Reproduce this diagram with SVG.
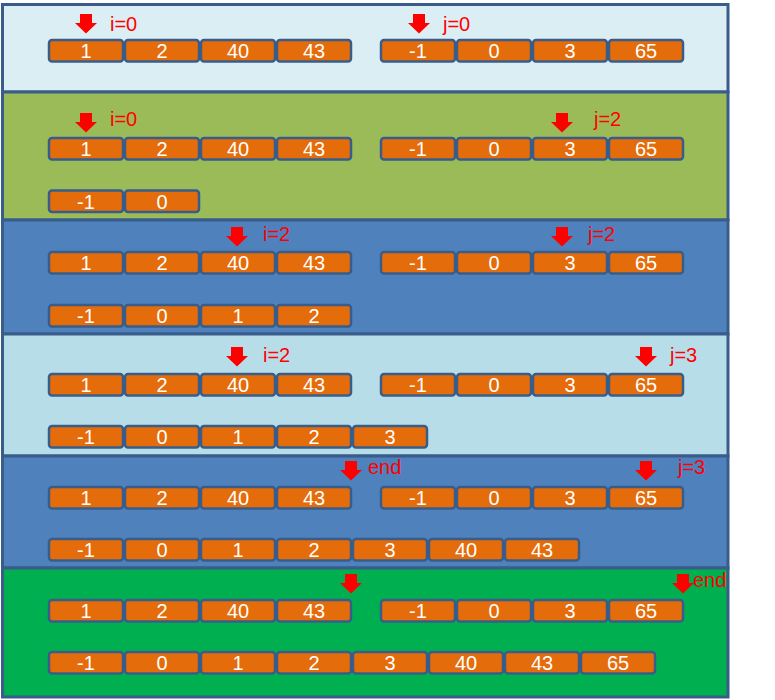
<svg xmlns="http://www.w3.org/2000/svg" xmlns:xlink="http://www.w3.org/1999/xlink" width="775" height="700" viewBox="0 0 775 700">
<style>
.band{stroke:#385D8A;stroke-width:3}
.cell{fill:#E46C0A;stroke:#385D8A;stroke-width:2.5}
.v{fill:#FFFFFF;font-family:"Liberation Sans",Arial,sans-serif;font-size:20px;text-anchor:middle}
.lbl{fill:#FF0000;font-family:"Liberation Sans",Arial,sans-serif;font-size:20px}
.arr{fill:#FF0000}
</style>
<defs>
<path id="dn" class="arr" d="M-6,0 H6 V9 H11 L0,19.5 L-11,9 H-6 Z"/>
</defs>
<rect width="775" height="700" fill="#FFFFFF"/>

<g id="band1">
<rect class="band" x="2.5" y="4.5" width="725.5" height="87.5" fill="#DBEEF4"/>
<g id="b1-left">
<rect class="cell" x="49" y="40" width="74" height="21.5" rx="3"/><text class="v" x="86" y="58">1</text>
<rect class="cell" x="125" y="40" width="74" height="21.5" rx="3"/><text class="v" x="162" y="58">2</text>
<rect class="cell" x="201" y="40" width="74" height="21.5" rx="3"/><text class="v" x="238" y="58">40</text>
<rect class="cell" x="277" y="40" width="74" height="21.5" rx="3"/><text class="v" x="314" y="58">43</text>
</g>
<g id="b1-right">
<rect class="cell" x="381" y="40" width="74" height="21.5" rx="3"/><text class="v" x="418" y="58">-1</text>
<rect class="cell" x="457" y="40" width="74" height="21.5" rx="3"/><text class="v" x="494" y="58">0</text>
<rect class="cell" x="533" y="40" width="74" height="21.5" rx="3"/><text class="v" x="570" y="58">3</text>
<rect class="cell" x="609" y="40" width="74" height="21.5" rx="3"/><text class="v" x="646" y="58">65</text>
</g>
</g>

<g id="band2">
<rect class="band" x="2.5" y="92" width="725.5" height="128" fill="#9BBB59"/>
<g id="b2-left">
<rect class="cell" x="49" y="138" width="74" height="21.5" rx="3"/><text class="v" x="86" y="156">1</text>
<rect class="cell" x="125" y="138" width="74" height="21.5" rx="3"/><text class="v" x="162" y="156">2</text>
<rect class="cell" x="201" y="138" width="74" height="21.5" rx="3"/><text class="v" x="238" y="156">40</text>
<rect class="cell" x="277" y="138" width="74" height="21.5" rx="3"/><text class="v" x="314" y="156">43</text>
</g>
<g id="b2-right">
<rect class="cell" x="381" y="138" width="74" height="21.5" rx="3"/><text class="v" x="418" y="156">-1</text>
<rect class="cell" x="457" y="138" width="74" height="21.5" rx="3"/><text class="v" x="494" y="156">0</text>
<rect class="cell" x="533" y="138" width="74" height="21.5" rx="3"/><text class="v" x="570" y="156">3</text>
<rect class="cell" x="609" y="138" width="74" height="21.5" rx="3"/><text class="v" x="646" y="156">65</text>
</g>
<g id="b2-merged">
<rect class="cell" x="49" y="190.5" width="74" height="21.5" rx="3"/><text class="v" x="86" y="208.5">-1</text>
<rect class="cell" x="125" y="190.5" width="74" height="21.5" rx="3"/><text class="v" x="162" y="208.5">0</text>
</g>
</g>

<g id="band3">
<rect class="band" x="2.5" y="220" width="725.5" height="114" fill="#4F81BD"/>
<g id="b3-left">
<rect class="cell" x="49" y="252" width="74" height="21.5" rx="3"/><text class="v" x="86" y="270">1</text>
<rect class="cell" x="125" y="252" width="74" height="21.5" rx="3"/><text class="v" x="162" y="270">2</text>
<rect class="cell" x="201" y="252" width="74" height="21.5" rx="3"/><text class="v" x="238" y="270">40</text>
<rect class="cell" x="277" y="252" width="74" height="21.5" rx="3"/><text class="v" x="314" y="270">43</text>
</g>
<g id="b3-right">
<rect class="cell" x="381" y="252" width="74" height="21.5" rx="3"/><text class="v" x="418" y="270">-1</text>
<rect class="cell" x="457" y="252" width="74" height="21.5" rx="3"/><text class="v" x="494" y="270">0</text>
<rect class="cell" x="533" y="252" width="74" height="21.5" rx="3"/><text class="v" x="570" y="270">3</text>
<rect class="cell" x="609" y="252" width="74" height="21.5" rx="3"/><text class="v" x="646" y="270">65</text>
</g>
<g id="b3-merged">
<rect class="cell" x="49" y="305" width="74" height="21.5" rx="3"/><text class="v" x="86" y="323">-1</text>
<rect class="cell" x="125" y="305" width="74" height="21.5" rx="3"/><text class="v" x="162" y="323">0</text>
<rect class="cell" x="201" y="305" width="74" height="21.5" rx="3"/><text class="v" x="238" y="323">1</text>
<rect class="cell" x="277" y="305" width="74" height="21.5" rx="3"/><text class="v" x="314" y="323">2</text>
</g>
</g>

<g id="band4">
<rect class="band" x="2.5" y="334" width="725.5" height="122" fill="#B7DEE8"/>
<g id="b4-left">
<rect class="cell" x="49" y="374" width="74" height="21.5" rx="3"/><text class="v" x="86" y="392">1</text>
<rect class="cell" x="125" y="374" width="74" height="21.5" rx="3"/><text class="v" x="162" y="392">2</text>
<rect class="cell" x="201" y="374" width="74" height="21.5" rx="3"/><text class="v" x="238" y="392">40</text>
<rect class="cell" x="277" y="374" width="74" height="21.5" rx="3"/><text class="v" x="314" y="392">43</text>
</g>
<g id="b4-right">
<rect class="cell" x="381" y="374" width="74" height="21.5" rx="3"/><text class="v" x="418" y="392">-1</text>
<rect class="cell" x="457" y="374" width="74" height="21.5" rx="3"/><text class="v" x="494" y="392">0</text>
<rect class="cell" x="533" y="374" width="74" height="21.5" rx="3"/><text class="v" x="570" y="392">3</text>
<rect class="cell" x="609" y="374" width="74" height="21.5" rx="3"/><text class="v" x="646" y="392">65</text>
</g>
<g id="b4-merged">
<rect class="cell" x="49" y="426" width="74" height="21.5" rx="3"/><text class="v" x="86" y="444">-1</text>
<rect class="cell" x="125" y="426" width="74" height="21.5" rx="3"/><text class="v" x="162" y="444">0</text>
<rect class="cell" x="201" y="426" width="74" height="21.5" rx="3"/><text class="v" x="238" y="444">1</text>
<rect class="cell" x="277" y="426" width="74" height="21.5" rx="3"/><text class="v" x="314" y="444">2</text>
<rect class="cell" x="353" y="426" width="74" height="21.5" rx="3"/><text class="v" x="390" y="444">3</text>
</g>
</g>

<g id="band5">
<rect class="band" x="2.5" y="456" width="725.5" height="112" fill="#4F81BD"/>
<g id="b5-left">
<rect class="cell" x="49" y="487" width="74" height="21.5" rx="3"/><text class="v" x="86" y="505">1</text>
<rect class="cell" x="125" y="487" width="74" height="21.5" rx="3"/><text class="v" x="162" y="505">2</text>
<rect class="cell" x="201" y="487" width="74" height="21.5" rx="3"/><text class="v" x="238" y="505">40</text>
<rect class="cell" x="277" y="487" width="74" height="21.5" rx="3"/><text class="v" x="314" y="505">43</text>
</g>
<g id="b5-right">
<rect class="cell" x="381" y="487" width="74" height="21.5" rx="3"/><text class="v" x="418" y="505">-1</text>
<rect class="cell" x="457" y="487" width="74" height="21.5" rx="3"/><text class="v" x="494" y="505">0</text>
<rect class="cell" x="533" y="487" width="74" height="21.5" rx="3"/><text class="v" x="570" y="505">3</text>
<rect class="cell" x="609" y="487" width="74" height="21.5" rx="3"/><text class="v" x="646" y="505">65</text>
</g>
<g id="b5-merged">
<rect class="cell" x="49" y="539" width="74" height="21.5" rx="3"/><text class="v" x="86" y="557">-1</text>
<rect class="cell" x="125" y="539" width="74" height="21.5" rx="3"/><text class="v" x="162" y="557">0</text>
<rect class="cell" x="201" y="539" width="74" height="21.5" rx="3"/><text class="v" x="238" y="557">1</text>
<rect class="cell" x="277" y="539" width="74" height="21.5" rx="3"/><text class="v" x="314" y="557">2</text>
<rect class="cell" x="353" y="539" width="74" height="21.5" rx="3"/><text class="v" x="390" y="557">3</text>
<rect class="cell" x="429" y="539" width="74" height="21.5" rx="3"/><text class="v" x="466" y="557">40</text>
<rect class="cell" x="505" y="539" width="74" height="21.5" rx="3"/><text class="v" x="542" y="557">43</text>
</g>
</g>

<g id="band6">
<rect class="band" x="2.5" y="568" width="725.5" height="129" fill="#00B050"/>
<g id="b6-left">
<rect class="cell" x="49" y="600" width="74" height="21.5" rx="3"/><text class="v" x="86" y="618">1</text>
<rect class="cell" x="125" y="600" width="74" height="21.5" rx="3"/><text class="v" x="162" y="618">2</text>
<rect class="cell" x="201" y="600" width="74" height="21.5" rx="3"/><text class="v" x="238" y="618">40</text>
<rect class="cell" x="277" y="600" width="74" height="21.5" rx="3"/><text class="v" x="314" y="618">43</text>
</g>
<g id="b6-right">
<rect class="cell" x="381" y="600" width="74" height="21.5" rx="3"/><text class="v" x="418" y="618">-1</text>
<rect class="cell" x="457" y="600" width="74" height="21.5" rx="3"/><text class="v" x="494" y="618">0</text>
<rect class="cell" x="533" y="600" width="74" height="21.5" rx="3"/><text class="v" x="570" y="618">3</text>
<rect class="cell" x="609" y="600" width="74" height="21.5" rx="3"/><text class="v" x="646" y="618">65</text>
</g>
<g id="b6-merged">
<rect class="cell" x="49" y="652" width="74" height="21.5" rx="3"/><text class="v" x="86" y="670">-1</text>
<rect class="cell" x="125" y="652" width="74" height="21.5" rx="3"/><text class="v" x="162" y="670">0</text>
<rect class="cell" x="201" y="652" width="74" height="21.5" rx="3"/><text class="v" x="238" y="670">1</text>
<rect class="cell" x="277" y="652" width="74" height="21.5" rx="3"/><text class="v" x="314" y="670">2</text>
<rect class="cell" x="353" y="652" width="74" height="21.5" rx="3"/><text class="v" x="390" y="670">3</text>
<rect class="cell" x="429" y="652" width="74" height="21.5" rx="3"/><text class="v" x="466" y="670">40</text>
<rect class="cell" x="505" y="652" width="74" height="21.5" rx="3"/><text class="v" x="542" y="670">43</text>
<rect class="cell" x="581" y="652" width="74" height="21.5" rx="3"/><text class="v" x="618" y="670">65</text>
</g>
</g>

<g id="connectors">
<use xlink:href="#dn" href="#dn" x="86" y="14"/>
<use xlink:href="#dn" href="#dn" x="419" y="14"/>
<use xlink:href="#dn" href="#dn" x="86" y="113"/>
<use xlink:href="#dn" href="#dn" x="562" y="113"/>
<use xlink:href="#dn" href="#dn" x="237" y="227"/>
<use xlink:href="#dn" href="#dn" x="562" y="227"/>
<use xlink:href="#dn" href="#dn" x="237" y="347"/>
<use xlink:href="#dn" href="#dn" x="646" y="347"/>
<use xlink:href="#dn" href="#dn" x="351" y="461"/>
<use xlink:href="#dn" href="#dn" x="646" y="461"/>
<use xlink:href="#dn" href="#dn" x="351" y="574"/>
<use xlink:href="#dn" href="#dn" x="683" y="574"/>
</g>

<g id="labels">
<text class="lbl" x="110" y="31">i=0</text>
<text class="lbl" x="443" y="31">j=0</text>
<text class="lbl" x="110" y="126">i=0</text>
<text class="lbl" x="594" y="126">j=2</text>
<text class="lbl" x="263" y="241">i=2</text>
<text class="lbl" x="588" y="241">j=2</text>
<text class="lbl" x="263" y="362">i=2</text>
<text class="lbl" x="670" y="362">j=3</text>
<text class="lbl" x="368" y="474">end</text>
<text class="lbl" x="678" y="474">j=3</text>
<text class="lbl" x="693" y="587">end</text>
</g>
</svg>
